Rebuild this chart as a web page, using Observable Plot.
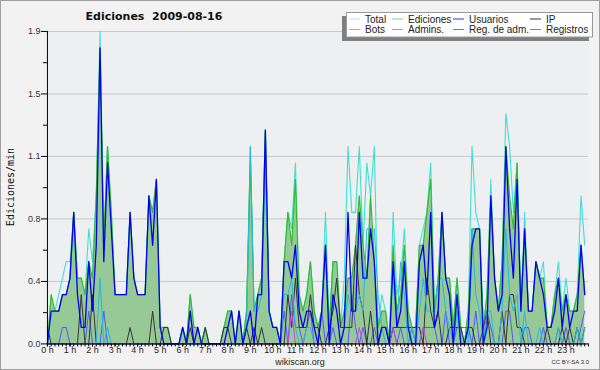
<!DOCTYPE html>
<html><head><meta charset="utf-8">
<script src="https://cdn.jsdelivr.net/npm/d3@7"></script>
<script src="https://cdn.jsdelivr.net/npm/@observablehq/plot@0.6"></script>
<style>
body{margin:0;background:#fff}
#wrap{position:relative;width:600px;height:370px;background:#f2f2f2;box-sizing:border-box;border:1px solid #a0a0a0;overflow:hidden}
#chart{position:absolute;left:-1px;top:-1px}
#over{position:absolute;left:-1px;top:-1px;pointer-events:none}
</style></head>
<body><div id="wrap"><div id="chart"></div><svg id="over" width="600" height="370"></svg></div>
<script>
// time bins: 10-minute slots of the day (hours)
const slots = d3.range(144).map(i => i / 6);
const hourTicks = d3.range(0, 24);
const hourLabels = hourTicks.map(h => h + " h");
const yMajor = [0, 0.38, 0.76, 1.14, 1.52, 1.9];
const yMinor = [0.19, 0.57, 0.95, 1.33, 1.71];

const total = [
0,0.2,0.2,0.3,0.4,0.5,0.5,0.8,0.4,0.4,
0.3,0.7,0.5,0.9,1.9,0.6,1.2,0.8,0.3,0.3,
0.3,0.3,0.8,0.4,0.3,0.3,0.3,0.9,0.8,1.0,
0.1,0.1,0.1,0,0,0,0.1,0,0.3,0.1,
0.1,0,0.1,0,0,0,0,0.1,0.2,0.2,
0,0.2,0,0.2,1.2,0.2,0.3,0.4,1.3,0.2,
0.1,0.1,0,0.5,0.8,0.7,1.1,0.3,0.2,0.3,
0.5,0.2,0.1,0.2,0.8,0.1,0.5,0.5,0.1,0.4,
1.2,0.8,0.8,1.2,0.6,1.1,0.9,1.2,0.1,0.3,
0.2,0,0.8,0.3,0.4,0.7,0.2,0.1,0.1,0.6,
0.7,0.8,1.1,0.2,0.4,0.8,0.4,0.4,0.1,0.4,
0.1,0,0.2,1.2,0.8,0.7,0.1,0.3,1.0,0.4,
0.2,0.5,1.4,1.2,0.8,1.1,0.2,0.8,0.2,0.2,
0.5,0.4,0.5,0.1,0.1,0.3,0.5,0.2,0.4,0.2,
0.2,0.3,0.9,0.6];
const ediciones = [
0,0.3,0.2,0.2,0.3,0.3,0.4,0.8,0.4,0.4,
0.3,0.5,0.4,0.9,1.8,0.6,1.2,0.8,0.3,0.3,
0.3,0.3,0.8,0.4,0.3,0.3,0.3,0.9,0.8,1.0,
0.1,0.1,0.1,0,0,0,0.1,0,0.3,0.1,
0.1,0,0.1,0,0,0,0,0.1,0.2,0.2,
0,0.2,0,0.2,1.1,0.2,0.3,0.4,1.3,0.2,
0.1,0.1,0,0.5,0.8,0.6,1.0,0.3,0.2,0.3,
0.5,0.2,0.1,0.2,0.6,0.1,0.5,0.5,0.1,0.2,
0.4,0.4,0.6,0.9,0.6,0.4,0.9,0.5,0.1,0.2,
0.2,0,0.6,0.2,0.3,0.6,0.2,0.1,0.1,0.6,
0.6,0.8,1.0,0.2,0.4,0.8,0.4,0.4,0.1,0.4,
0.1,0,0.2,0.7,0.7,0.7,0.1,0.3,0.9,0.4,
0.2,0.5,1.2,0.9,0.7,1.1,0.2,0.7,0.2,0.2,
0.5,0.4,0.4,0.1,0.1,0.3,0.4,0.2,0.3,0.2,
0.2,0.3,0.6,0.3];
const usuarios = [
0,0.2,0.2,0.2,0.3,0.3,0.4,0.8,0.3,0.1,
0.1,0.5,0.2,0.6,1.8,0.5,1.1,0.7,0.3,0.3,
0.3,0.3,0.8,0.4,0.3,0.3,0.3,0.9,0.6,1.0,
0.1,0,0,0,0,0,0.1,0,0.2,0,
0.1,0,0,0,0,0,0,0,0.1,0.2,
0,0.2,0,0.1,0.2,0,0.3,0.3,1.3,0.2,
0.1,0.1,0,0.5,0.5,0.4,0.6,0.2,0.1,0.2,
0.2,0.1,0,0.2,0.6,0,0.3,0.2,0,0.1,
0.8,0.2,0.2,0.8,0.4,0.4,0.7,0.5,0,0.1,
0.1,0,0.5,0.1,0.2,0.5,0.1,0,0,0.5,
0.6,0.3,0.8,0.1,0.2,0.8,0.4,0.3,0,0.3,
0,0,0.1,0.6,0.7,0.7,0,0.1,0.9,0.4,
0.2,0.3,1.2,0.7,0.4,1.0,0.2,0.7,0.2,0.2,
0.5,0.4,0.3,0.1,0.1,0.2,0.4,0.1,0.3,0.1,
0.2,0.2,0.6,0.3];
const ip = [
0.1,0,0,0,0,0,0,0,0,0.3,
0,0,0.3,0,0,0,0,0,0,0,
0,0,0.1,0,0,0,0,0,0.2,0,
0,0.1,0.1,0,0,0,0,0,0.1,0,
0,0,0.1,0,0,0,0,0.1,0.1,0,
0,0,0,0.1,0,0.1,0,0.1,0,0,
0,0,0,0,0.3,0.1,0.4,0.1,0.1,0.1,
0.3,0.1,0.1,0,0,0.1,0.2,0.4,0.1,0.1,
0.1,0.1,0.6,0.3,0.2,0,0.2,0,0,0.1,
0.1,0,0.1,0.1,0.1,0.1,0.1,0.1,0.1,0.1,
0,0.4,0.2,0.1,0.2,0,0,0.1,0.1,0.1,
0.1,0,0.1,0.1,0,0,0.1,0.2,0,0,
0,0.2,0,0.3,0.3,0.1,0.1,0,0,0,
0,0,0,0.1,0,0,0,0.1,0,0.1,
0,0.1,0,0.1];
const bots = new Array(144).fill(0);
const admins = [
0,0,0,0,0,0,0,0,0,0,
0,0,0,0,0.4,0,0.1,0,0,0,
0,0,0,0,0,0,0,0,0,0,
0,0,0,0,0,0,0,0,0,0,
0,0,0,0,0,0,0,0,0,0,
0,0,0,0.1,1.2,0.2,0.2,0.3,1.1,0.2,
0.1,0.1,0,0.3,0.3,0.4,0.1,0,0,0.1,
0.1,0,0,0,0,0,0,0,0,0.1,
0.3,0.2,0.2,0.3,0.2,0.7,0.7,0.7,0.3,0.1,
0,0,0.5,0.1,0.5,0.3,0,0.1,0,0.2,
0.4,0.2,0.2,0.2,0.4,0.4,0.2,0.1,0,0.2,
0,0,0,0.7,0.3,0.2,0,0.2,0.2,0,
0,0.2,0.7,0.3,0.2,0.3,0,0.2,0,0,
0,0.1,0,0,0,0,0.1,0,0,0,
0,0.1,0,0.1];
const regAdm = [
0,0,0,0,0,0,0,0,0,0, 0,0,0,0,0,0,0,0,0,0,
0,0,0,0,0,0,0,0,0,0, 0,0,0,0,0,0,0,0,0,0,
0,0,0,0,0,0,0,0,0,0, 0,0,0,0,0,0,0,0,0,0,
0,0,0,0,0,0.2,0,0,0,0, 0,0,0,0,0,0,0,0,0,0,
0,0,0,0.1,0,0,0,0,0,0, 0,0,0.1,0,0,0,0,0,0,0,
0.1,0,0,0,0,0,0,0,0,0, 0,0,0,0,0,0,0,0,0,0,
0,0,0,0,0,0,0,0,0,0, 0,0,0,0,0,0,0,0,0,0,
0,0,0,0];
const registros = [
0,0,0,0,0.1,0.1,0,0,0,0,
0,0.2,0,0,0,0.2,0,0,0,0,
0,0,0,0,0,0,0,0,0,0,
0,0,0,0,0,0,0,0,0,0,
0,0,0,0,0,0,0,0,0,0,
0,0,0,0,0,0,0,0,0,0,
0,0,0,0.2,0,0.3,0.1,0.1,0,0.1,
0.2,0,0,0.2,0,0,0.1,0,0,0,
0,0.3,0.1,0,0.1,0,0,0.1,0,0,
0,0,0.1,0,0.1,0,0,0.1,0,0,
0.1,0.1,0.1,0.1,0,0,0.2,0,0,0.1,
0.1,0.1,0.1,0,0.2,0,0,0.2,0.1,0,
0,0,0.2,0.2,0,0,0,0.1,0.1,0,
0,0,0.1,0,0,0,0.1,0,0.1,0,
0,0,0.1,0.2];

const seriesNames = ["Total","Ediciones","Usuarios","IP","Bots","Admins.","Reg. de adm.","Registros"];
const seriesColors = ["#40e0d0","#33bb33","#0000ee","#333333","#ff9922","#22bbdd","#cc44dd","#5555ff"];
const legendSwatch = ["#a8e8e0","#88cc88","#3333dd","#333333","#f0a040","#44c8e0","#cc44dd","#7777ee"];

const X = (d, i) => slots[i];
const Y = d => d;
const ln = (arr, color, w = 1) => Plot.line(arr, {x: X, y: Y, stroke: color, strokeWidth: w});

const chart = Plot.plot({
  width: 600, height: 370,
  marginLeft: 47, marginRight: 11, marginTop: 31, marginBottom: 26,
  style: {background: "transparent", fontFamily: "'Liberation Sans',sans-serif", fontSize: "9px", color: "#222"},
  x: {domain: [0, 24]},
  y: {domain: [0, 1.9]},
  marks: [
    Plot.frame({fill: "#edeff1", stroke: null}),
    Plot.gridY(yMajor, {stroke: "#c8c8c8", strokeOpacity: 1}),
    Plot.areaY(ediciones, {x: X, y: Y, fill: "#96c996"}),
    ln(total, seriesColors[0], 1.1),
    ln(ediciones, seriesColors[1], 1.2),
    ln(bots, seriesColors[4]),
    ln(registros, seriesColors[7]),
    ln(ip, seriesColors[3]),
    ln(admins, seriesColors[5]),
    ln(regAdm, seriesColors[6]),
    ln(usuarios, seriesColors[2], 1.3),
    Plot.axisX({ticks: d3.range(145).map(i => i / 6), tickSize: 3, tickFormat: () => "", stroke: "#000", label: null}),
    Plot.axisX({ticks: hourTicks, tickSize: 3, tickPadding: 0, tickFormat: (d, i) => hourLabels[i], stroke: "#000", fill: "#222", label: null}),
    Plot.axisY({ticks: yMinor, tickSize: 4, tickFormat: () => "", stroke: "#000", label: null}),
    Plot.axisY({ticks: yMajor, tickSize: 6, tickPadding: 1, tickFormat: d => d.toFixed(1), stroke: "#000", fill: "#333", label: null}),
    Plot.ruleX([0], {stroke: "#000"}),
    Plot.ruleY([0], {stroke: "#000"})
  ]
});
document.getElementById("chart").append(chart);

const svg = d3.select("#over");
svg.append("text").attr("x", 154).attr("y", 20).attr("text-anchor", "middle")
  .style("font", "bold 11px 'DejaVu Sans'").style("white-space", "pre").attr("fill", "#111")
  .text("Ediciones  2009-08-16");
svg.append("text").attr("transform", "translate(13.5,187) rotate(-90)").attr("text-anchor", "middle")
  .style("font", "10px 'DejaVu Sans Mono'").attr("fill", "#111").text("Ediciones/min");
svg.append("text").attr("x", 300).attr("y", 365).attr("text-anchor", "middle")
  .style("font", "9px 'Liberation Sans'").attr("fill", "#222").text("wikiscan.org");
svg.append("text").attr("x", 589).attr("y", 364).attr("text-anchor", "end")
  .style("font", "6px 'Liberation Sans'").attr("fill", "#333").text("CC BY-SA 3.0");

// legend
svg.append("rect").attr("x", 342).attr("y", 16).attr("width", 247).attr("height", 25).attr("fill", "#7f7f7f");
svg.append("rect").attr("x", 346.5).attr("y", 12.5).attr("width", 246).attr("height", 24.5).attr("fill", "#fff").attr("stroke", "#999");
const colX = [349, 392, 453, 530];
const rowY = [19, 29.5];
const rowBase = [22.5, 33];
seriesNames.forEach((name, k) => {
  const c = k % 4, r = Math.floor(k / 4);
  svg.append("line").attr("x1", colX[c]).attr("x2", colX[c] + 11).attr("y1", rowY[r]).attr("y2", rowY[r])
    .attr("stroke", legendSwatch[k]).attr("stroke-width", 1);
  svg.append("text").attr("x", colX[c] + 16).attr("y", rowBase[r])
    .style("font", "10px 'Liberation Sans'").attr("fill", "#222").text(name);
});
</script>
</body></html>
